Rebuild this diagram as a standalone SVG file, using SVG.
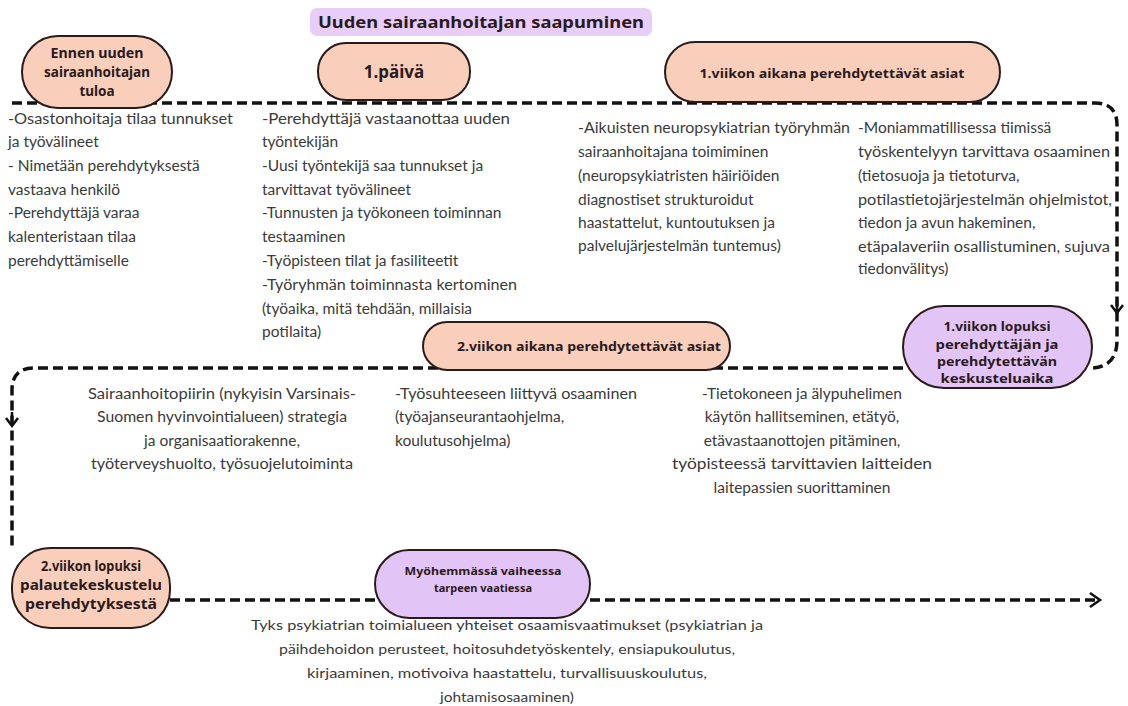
<svg xmlns="http://www.w3.org/2000/svg" width="1128" height="706" viewBox="0 0 1128 706">
<style>
.peach{fill:#f9cfbb;stroke:#2a1a1a;stroke-width:2}
.purple{fill:#e3c4f6;stroke:#2a1a1a;stroke-width:2}
.lbl{font-family:"Noto Sans","Liberation Sans",sans-serif;font-weight:bold;fill:#2a1a20;text-anchor:middle}
.txt{font-family:Lato,"Liberation Sans",sans-serif;font-size:15.5px;fill:#3a3a3a}
.mid{text-anchor:middle}
.dash{fill:none;stroke:#111;stroke-width:3.5;stroke-dasharray:10,5}
.arr{fill:none;stroke:#111;stroke-width:2.5}
</style>
<rect width="1128" height="706" fill="#ffffff"/>
<g id="connectors">
<path class="dash" d="M12,103 H1095 Q1117,103 1117,125 V340 Q1117,368 1090,368"/>
<path class="arr" d="M1111,305 L1117,313 L1123,305 M1117,300 V313"/>
<path class="dash" d="M903,368 H34 Q12,368 12,390 V548"/>
<path class="arr" d="M6,418 L12,426 L18,418 M12,412 V426"/>
<path class="dash" d="M170,600 H1096"/>
<path class="arr" d="M1090,593 L1100,600 L1090,607"/>
</g>
<g id="title">
<rect x="310" y="8" width="342" height="28" rx="7" fill="#e8cdf9"/>
<text class="lbl" x="481" y="28" font-size="16.5" textLength="326" lengthAdjust="spacingAndGlyphs">Uuden sairaanhoitajan saapuminen</text>
</g>
<g id="node-ennen">
<rect class="peach" x="22" y="36" width="150" height="72" rx="36"/>
<text class="lbl" x="97" y="58" font-size="13.5" textLength="93" lengthAdjust="spacingAndGlyphs">Ennen uuden</text>
<text class="lbl" x="97" y="77" font-size="13.5" textLength="106" lengthAdjust="spacingAndGlyphs">sairaanhoitajan</text>
<text class="lbl" x="97" y="96" font-size="13.5">tuloa</text>
</g>
<g id="node-paiva">
<rect class="peach" x="318" y="43" width="152" height="57" rx="28"/>
<text class="lbl" x="394" y="78" font-size="17">1.päivä</text>
</g>
<g id="node-viikko1">
<rect class="peach" x="665" y="42" width="335" height="60" rx="30"/>
<text class="lbl" x="832" y="78" font-size="13" textLength="265" lengthAdjust="spacingAndGlyphs">1.viikon aikana perehdytettävät asiat</text>
</g>
<g id="node-lopuksi1">
<rect class="purple" x="903" y="306" width="189" height="82" rx="41"/>
<text class="lbl" x="997" y="331" font-size="13" textLength="107" lengthAdjust="spacingAndGlyphs">1.viikon lopuksi</text>
<text class="lbl" x="997" y="349" font-size="13" textLength="123" lengthAdjust="spacingAndGlyphs">perehdyttäjän ja</text>
<text class="lbl" x="997" y="366" font-size="13" textLength="120" lengthAdjust="spacingAndGlyphs">perehdytettävän</text>
<text class="lbl" x="997" y="383" font-size="13" textLength="113" lengthAdjust="spacingAndGlyphs">keskusteluaika</text>
</g>
<g id="node-viikko2">
<rect class="peach" x="423" y="322" width="307" height="48" rx="24"/>
<text class="lbl" x="589" y="351" font-size="13" textLength="264" lengthAdjust="spacingAndGlyphs">2.viikon aikana perehdytettävät asiat</text>
</g>
<g id="node-lopuksi2">
<rect class="peach" x="12" y="548" width="158" height="80" rx="38"/>
<text class="lbl" x="91" y="571" font-size="14" textLength="100" lengthAdjust="spacingAndGlyphs">2.viikon lopuksi</text>
<text class="lbl" x="91" y="590" font-size="14" textLength="142" lengthAdjust="spacingAndGlyphs">palautekeskustelu</text>
<text class="lbl" x="91" y="609" font-size="14" textLength="132" lengthAdjust="spacingAndGlyphs">perehdytyksestä</text>
</g>
<g id="node-myohemmin">
<rect class="purple" x="375" y="550" width="215" height="68" rx="34"/>
<text class="lbl" x="483" y="575" font-size="11" textLength="157" lengthAdjust="spacingAndGlyphs">Myöhemmässä vaiheessa</text>
<text class="lbl" x="483" y="592" font-size="11" textLength="98" lengthAdjust="spacingAndGlyphs">tarpeen vaatiessa</text>
</g>
<g id="text-ennen" class="txt">
<text x="8" y="124" textLength="225" lengthAdjust="spacingAndGlyphs">-Osastonhoitaja tilaa tunnukset</text>
<text x="8" y="147">ja työvälineet</text>
<text x="8" y="171">- Nimetään perehdytyksestä</text>
<text x="8" y="195">vastaava henkilö</text>
<text x="8" y="218">-Perehdyttäjä varaa</text>
<text x="8" y="242">kalenteristaan tilaa</text>
<text x="8" y="266">perehdyttämiselle</text>
</g>
<g id="text-paiva" class="txt">
<text x="262" y="124" textLength="248" lengthAdjust="spacingAndGlyphs">-Perehdyttäjä vastaanottaa uuden</text>
<text x="262" y="147">työntekijän</text>
<text x="262" y="171">-Uusi työntekijä saa tunnukset ja</text>
<text x="262" y="195">tarvittavat työvälineet</text>
<text x="262" y="218">-Tunnusten ja työkoneen toiminnan</text>
<text x="262" y="242">testaaminen</text>
<text x="262" y="266">-Työpisteen tilat ja fasiliteetit</text>
<text x="262" y="290" textLength="255" lengthAdjust="spacingAndGlyphs">-Työryhmän toiminnasta kertominen</text>
<text x="262" y="314">(työaika, mitä tehdään, millaisia</text>
<text x="262" y="337">potilaita)</text>
</g>
<g id="text-viikko1a" class="txt">
<text x="578" y="133" textLength="272" lengthAdjust="spacingAndGlyphs">-Aikuisten neuropsykiatrian työryhmän</text>
<text x="578" y="157">sairaanhoitajana toimiminen</text>
<text x="578" y="181">(neuropsykiatristen häiriöiden</text>
<text x="578" y="205">diagnostiset strukturoidut</text>
<text x="578" y="228">haastattelut, kuntoutuksen ja</text>
<text x="578" y="251">palvelujärjestelmän tuntemus)</text>
</g>
<g id="text-viikko1b" class="txt">
<text x="858" y="133">-Moniammatillisessa tiimissä</text>
<text x="858" y="157" textLength="252" lengthAdjust="spacingAndGlyphs">työskentelyyn tarvittava osaaminen</text>
<text x="858" y="181">(tietosuoja ja tietoturva,</text>
<text x="858" y="205" textLength="254" lengthAdjust="spacingAndGlyphs">potilastietojärjestelmän ohjelmistot,</text>
<text x="858" y="228">tiedon ja avun hakeminen,</text>
<text x="858" y="252" textLength="252" lengthAdjust="spacingAndGlyphs">etäpalaveriin osallistuminen, sujuva</text>
<text x="858" y="274">tiedonvälitys)</text>
</g>
<g id="text-viikko2a" class="txt mid">
<text x="222" y="399" textLength="268" lengthAdjust="spacingAndGlyphs">Sairaanhoitopiirin (nykyisin Varsinais-</text>
<text x="222" y="422" textLength="250" lengthAdjust="spacingAndGlyphs">Suomen hyvinvointialueen) strategia</text>
<text x="222" y="446">ja organisaatiorakenne,</text>
<text x="222" y="469" textLength="262" lengthAdjust="spacingAndGlyphs">työterveyshuolto, työsuojelutoiminta</text>
</g>
<g id="text-viikko2b" class="txt">
<text x="395" y="399" textLength="242" lengthAdjust="spacingAndGlyphs">-Työsuhteeseen liittyvä osaaminen</text>
<text x="395" y="422">(työajanseurantaohjelma,</text>
<text x="395" y="446">koulutusohjelma)</text>
</g>
<g id="text-viikko2c" class="txt mid">
<text x="802" y="399">-Tietokoneen ja älypuhelimen</text>
<text x="802" y="422">käytön hallitseminen, etätyö,</text>
<text x="802" y="446">etävastaanottojen pitäminen,</text>
<text x="802" y="469" textLength="260" lengthAdjust="spacingAndGlyphs">työpisteessä tarvittavien laitteiden</text>
<text x="802" y="493">laitepassien suorittaminen</text>
</g>
<g id="text-myohemmin" class="txt mid" style="font-size:14px">
<text x="507" y="630" textLength="512" lengthAdjust="spacingAndGlyphs">Tyks psykiatrian toimialueen yhteiset osaamisvaatimukset (psykiatrian ja</text>
<text x="507" y="654" textLength="456" lengthAdjust="spacingAndGlyphs">päihdehoidon perusteet, hoitosuhdetyöskentely, ensiapukoulutus,</text>
<text x="507" y="678" textLength="400" lengthAdjust="spacingAndGlyphs">kirjaaminen, motivoiva haastattelu, turvallisuuskoulutus,</text>
<text x="507" y="702" textLength="134" lengthAdjust="spacingAndGlyphs">johtamisosaaminen)</text>
</g>
</svg>
